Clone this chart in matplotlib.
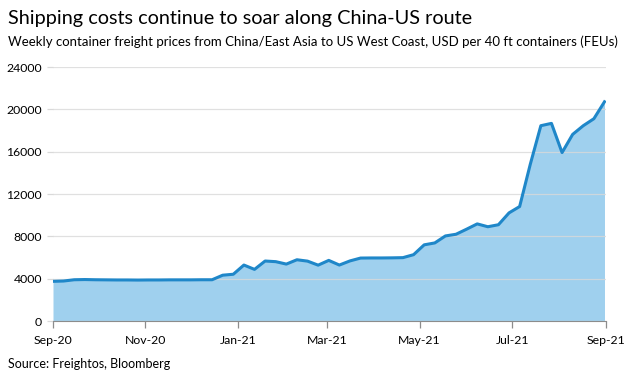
import numpy as np
import pandas as pd
import matplotlib
matplotlib.use("Agg")
import matplotlib.pyplot as plt
import matplotlib.dates as mdates

plt.rcParams['font.family'] = ['Lato', 'DejaVu Sans']

# weekly freight price, USD per FEU
dates = pd.date_range('2020-09-01', periods=53, freq='7D')
prices = [3750, 3780, 3900, 3920, 3900, 3890, 3880, 3880, 3870, 3880, 3880,
          3890, 3890, 3890, 3900, 3900, 4330, 4420, 5290, 4880, 5670, 5610,
          5380, 5790, 5660, 5280, 5730, 5290, 5680, 5950, 5960, 5960, 5970,
          5990, 6270, 7200, 7380, 8040, 8200, 8680, 9180, 8910, 9100, 10220,
          10820, 14800, 18460, 18680, 15920, 17640, 18460, 19120, 20720]

tick_dates = pd.to_datetime(['2020-09-01', '2020-11-01', '2021-01-01', '2021-03-01',
                             '2021-05-01', '2021-07-01', '2021-09-01'])
tick_labels = ['Sep-20', 'Nov-20', 'Jan-21', 'Mar-21', 'May-21', 'Jul-21', 'Sep-21']
y_ticks = [0, 4000, 8000, 12000, 16000, 20000, 24000]

fig = plt.figure(figsize=(6.25, 3.79), dpi=100)
ax = fig.add_axes([0.0848, 0.153, 0.8848, 0.670])

ax.fill_between(dates, prices, 0, color='#9fd0ee', lw=0, zorder=1)
ax.plot(dates, prices, color='#1f87c9', lw=2.2, zorder=3)

ax.set_xlim(tick_dates[0], tick_dates[-1])
ax.set_ylim(0, 24000)
ax.set_yticks(y_ticks)
ax.set_yticklabels([str(v) for v in y_ticks])
ax.set_xticks(tick_dates)
ax.set_xticklabels(tick_labels)

ax.grid(axis='y', color='#d9d9d9', lw=0.9, alpha=0.8, zorder=2)
ax.set_axisbelow(False)
for s in ['top', 'right', 'left']:
    ax.spines[s].set_visible(False)
ax.spines['bottom'].set_color('#8c8c8c')
ax.spines['bottom'].set_zorder(4)
ax.tick_params(axis='x', colors='#8c8c8c', length=5, width=0.9, labelcolor='black',
               labelsize=8.8, pad=5)
ax.tick_params(axis='y', colors='#d9d9d9', length=4, width=0.9, labelcolor='black',
               labelsize=8.8, pad=4)

fig.text(0.013, 0.95, 'Shipping costs continue to soar along China-US route',
         fontsize=14.3, ha='left', va='center')
fig.text(0.013, 0.889, 'Weekly container freight prices from China/East Asia to US West Coast, USD per 40 ft containers (FEUs)',
         fontsize=9.5, ha='left', va='center')
fig.text(0.013, 0.04, 'Source: Freightos, Bloomberg', fontsize=9, ha='left', va='center')

fig.savefig('out.png', dpi=100)
